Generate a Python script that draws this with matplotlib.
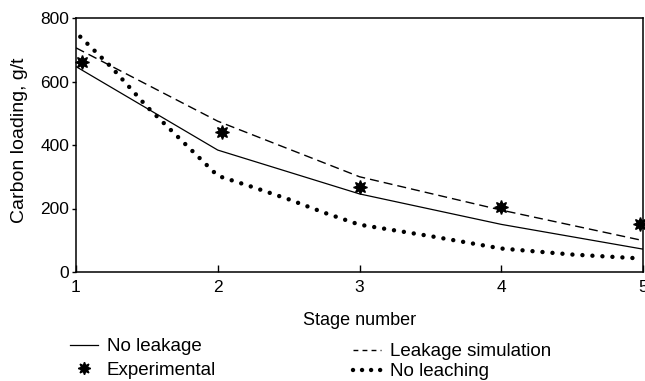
import matplotlib
matplotlib.use('Agg')
import matplotlib.pyplot as plt
from matplotlib.lines import Line2D

# Stage-wise carbon loading (g/t)
STAGES      = [1, 2, 3, 4, 5]
NO_LEAKAGE  = [647, 384, 246, 150, 72]
LEAKAGE_SIM = [706, 475, 300, 195, 99]

EXP_STAGE   = [1.04, 2.03, 3.0, 4.0, 4.98]
EXP_LOADING = [662, 440, 267, 206, 151]

LEACH_STAGE   = [1.03, 1.25, 1.5, 1.75, 2.0, 2.25, 2.5, 2.75, 3.0, 3.5, 4.0, 4.5, 4.97]
LEACH_LOADING = [741, 645, 521, 412, 303, 267, 229, 187, 149, 113, 74, 55, 43]

X_TICKS = [1, 2, 3, 4, 5]
Y_TICKS = [0, 200, 400, 600, 800]

plt.rcParams.update({
    'font.family': ['Liberation Sans', 'DejaVu Sans'],
    'font.size': 12.5,
    'lines.scale_dashes': False,
})

W, H = 645, 381
fig = plt.figure(figsize=(W / 100, H / 100), dpi=100)
ax = fig.add_axes([76 / W, 1 - 272 / H, (643 - 76) / W, (272 - 18) / H])

DASH = (0, (6.5, 3.6))
DOT = (0, (0.01, 7.2))

ax.plot(STAGES, NO_LEAKAGE, color='black', lw=0.9)
ax.plot(STAGES, LEAKAGE_SIM, color='black', lw=1.0, ls=DASH)
ax.plot(LEACH_STAGE, LEACH_LOADING, color='black', lw=3.2, ls=DOT,
        dash_capstyle='round')
ax.plot(EXP_STAGE, EXP_LOADING, ls='none', marker=(8, 1, 0), ms=10,
        color='black', clip_on=False)

ax.set_xlim(1, 5)
ax.set_ylim(0, 800)
ax.set_xticks(X_TICKS)
ax.set_yticks(Y_TICKS)
ax.tick_params(axis='x', direction='in', length=5, width=1, pad=6)
ax.tick_params(axis='y', direction='out', length=3, width=1, pad=2)
for sp in ax.spines.values():
    sp.set_linewidth(1.1)

ax.set_xlabel('Stage number', fontsize=13, labelpad=12)
ax.set_ylabel('Carbon loading, g/t', fontsize=14)
ax.yaxis.set_label_coords(-0.085, 0.52)

# Legend rows below the axes, two columns
h_solid = Line2D([], [], color='black', lw=0.9)
h_exp = Line2D([], [], ls='none', marker=(8, 1, 0), ms=9, color='black')
h_dash = Line2D([], [], color='black', lw=1.0, ls=(0, (3.5, 3.0)))
h_dot = Line2D([], [], color='black', lw=3.2, ls=(0, (0.01, 6.5)),
               dash_capstyle='round')

common = dict(frameon=False, handlelength=1.5, handletextpad=0.45,
              borderpad=0, borderaxespad=0, fontsize=13.5)
leg1 = fig.legend([h_solid, h_exp], ['No leakage', 'Experimental'],
                  loc='upper left', bbox_to_anchor=(70 / W, 1 - 338 / H),
                  labelspacing=0.35, **common)
leg2 = fig.legend([h_dash, h_dot], ['Leakage simulation', 'No leaching'],
                  loc='upper left', bbox_to_anchor=(353 / W, 1 - 343 / H),
                  labelspacing=0.15, **common)

fig.savefig('out.png', dpi=100)
